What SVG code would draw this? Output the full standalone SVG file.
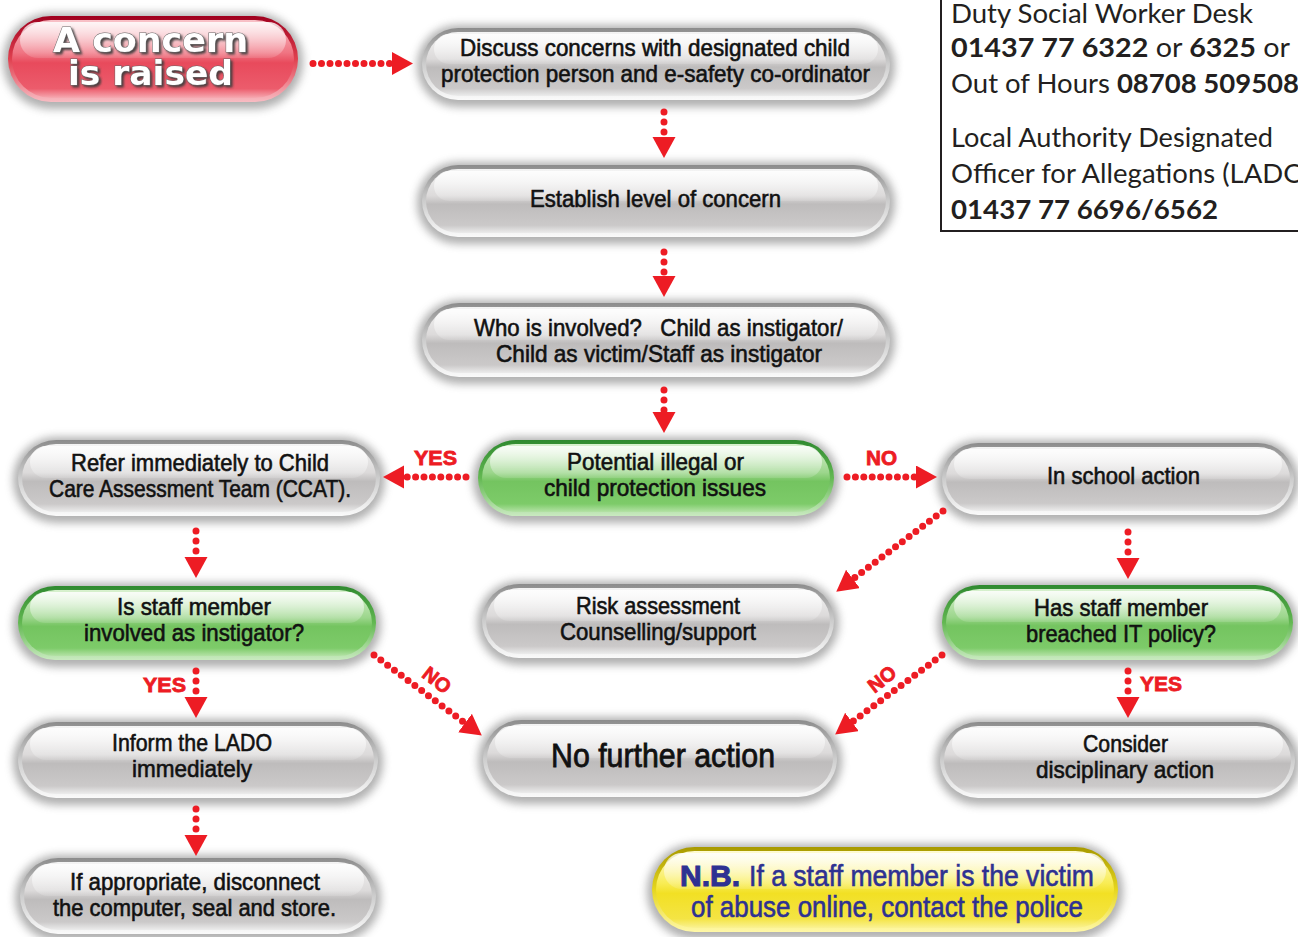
<svg xmlns="http://www.w3.org/2000/svg" width="1298" height="937" viewBox="0 0 1298 937">
<defs>
<style>
.sh{fill:#6f6f6f;opacity:.55;filter:url(#blur)}
.rimG{fill:url(#rimGray)}.bodyG{fill:url(#bodyGray)}
.rimN{fill:url(#rimGreen)}.bodyN{fill:url(#bodyGreen)}
.rimR{fill:url(#rimRed)}.bodyR{fill:url(#bodyRed)}
.rimY{fill:url(#rimYellow)}.bodyY{fill:url(#bodyYellow)}
.gl{fill:url(#gloss)}
.t{font-family:"Liberation Sans Narrow","Liberation Sans",Arial,sans-serif;font-size:24px;fill:#111;text-anchor:middle;stroke:#111;stroke-width:.6}
.big{font-size:33px;stroke-width:.8}
.nb{font-family:"Liberation Sans Narrow","Liberation Sans",Arial,sans-serif;font-size:29px;fill:#2e3192;stroke:#2e3192;stroke-width:.6}
.nbb{font-family:"Liberation Sans",Arial,sans-serif;font-weight:bold;font-size:29px;fill:#2e3192;stroke:#2e3192;stroke-width:1}
.ct{font-family:"DejaVu Sans","Liberation Sans",sans-serif;font-weight:bold;font-size:34px;text-anchor:middle;fill:#fff;stroke:#6a6a6a;stroke-width:1;paint-order:stroke;filter:url(#tshadow)}
.lbl{font-family:"Liberation Sans",Arial,sans-serif;font-weight:bold;font-size:20px;fill:#ed1c24;stroke:#ed1c24;stroke-width:.8}
.dots{fill:none;stroke:#ed1c24;stroke-width:7;stroke-linecap:round;stroke-dasharray:0 10;marker-end:url(#ah)}
.info{font-family:Lato,"Open Sans","Liberation Sans",sans-serif;font-size:27.5px;fill:#231f20}
.b{font-weight:bold}
</style>
<filter id="blur" x="-10%" y="-40%" width="120%" height="180%"><feGaussianBlur stdDeviation="4"/></filter>
<filter id="tshadow" x="-10%" y="-30%" width="130%" height="160%"><feDropShadow dx="2" dy="2" stdDeviation="0.8" flood-color="#3a3a3a" flood-opacity=".9"/></filter>
<marker id="ah" markerUnits="userSpaceOnUse" markerWidth="22" markerHeight="24" refX="0" refY="11.5" orient="auto"><path d="M0,0 L21,11.5 L0,23 Z" fill="#ed1c24"/></marker>
<linearGradient id="rimGray" x1="0" y1="0" x2="0" y2="1"><stop offset="0" stop-color="#8c8c8c"/><stop offset=".5" stop-color="#cdcdcd"/><stop offset="1" stop-color="#fafafa"/></linearGradient>
<linearGradient id="bodyGray" x1="0" y1="0" x2="0" y2="1"><stop offset="0" stop-color="#f4f4f4"/><stop offset=".42" stop-color="#dcdada"/><stop offset=".55" stop-color="#bebcbc"/><stop offset=".88" stop-color="#cbc9c9"/><stop offset="1" stop-color="#ececec"/></linearGradient>
<linearGradient id="rimGreen" x1="0" y1="0" x2="0" y2="1"><stop offset="0" stop-color="#2f8a2f"/><stop offset=".5" stop-color="#63b852"/><stop offset="1" stop-color="#c9eac0"/></linearGradient>
<linearGradient id="bodyGreen" x1="0" y1="0" x2="0" y2="1"><stop offset="0" stop-color="#d8f1cf"/><stop offset=".42" stop-color="#9cd68c"/><stop offset=".55" stop-color="#74c460"/><stop offset=".88" stop-color="#7dcb69"/><stop offset="1" stop-color="#b4e2a6"/></linearGradient>
<linearGradient id="rimRed" x1="0" y1="0" x2="0" y2="1"><stop offset="0" stop-color="#a0001e"/><stop offset=".5" stop-color="#e0404f"/><stop offset="1" stop-color="#f8bcc3"/></linearGradient>
<linearGradient id="bodyRed" x1="0" y1="0" x2="0" y2="1"><stop offset="0" stop-color="#f8c2c8"/><stop offset=".42" stop-color="#f07482"/><stop offset=".55" stop-color="#e84a5c"/><stop offset=".88" stop-color="#ec5c6c"/><stop offset="1" stop-color="#f6aab2"/></linearGradient>
<linearGradient id="rimYellow" x1="0" y1="0" x2="0" y2="1"><stop offset="0" stop-color="#a89a00"/><stop offset=".5" stop-color="#e6d61e"/><stop offset="1" stop-color="#fff8a8"/></linearGradient>
<linearGradient id="bodyYellow" x1="0" y1="0" x2="0" y2="1"><stop offset="0" stop-color="#fffbd4"/><stop offset=".42" stop-color="#f8ec54"/><stop offset=".55" stop-color="#f2e024"/><stop offset=".88" stop-color="#f4e444"/><stop offset="1" stop-color="#faf294"/></linearGradient>
<linearGradient id="gloss" x1="0" y1="0" x2="0" y2="1"><stop offset="0" stop-color="#fff" stop-opacity=".85"/><stop offset="1" stop-color="#fff" stop-opacity=".12"/></linearGradient>
</defs>
<rect width="1298" height="937" fill="#fff"/>

<g id="info-box">
<path d="M941,-2 V231 H1300" fill="none" stroke="#231f20" stroke-width="2"/>
<text class="info" x="951" y="23" textLength="302" lengthAdjust="spacingAndGlyphs">Duty Social Worker Desk</text>
<text class="info" x="951" y="57" textLength="339" lengthAdjust="spacingAndGlyphs"><tspan class="b">01437 77 6322</tspan> or <tspan class="b">6325</tspan> or</text>
<text class="info" x="951" y="93">Out of Hours <tspan class="b">08708 509508</tspan></text>
<text class="info" x="951" y="147" textLength="322" lengthAdjust="spacingAndGlyphs">Local Authority Designated</text>
<text class="info" x="951" y="183">Officer for Allegations (LADO)</text>
<text class="info b" x="951" y="219" textLength="267" lengthAdjust="spacingAndGlyphs">01437 77 6696/6562</text>
</g>

<g id="concern">
<rect class="sh" x="3" y="13" width="300" height="96" rx="48"/>
<rect class="rimR" x="8" y="16" width="290" height="86" rx="43"/>
<rect class="bodyR" x="12" y="20" width="282" height="78" rx="39"/>
<rect class="gl" x="20" y="22" width="266" height="36" rx="18"/>
<text class="ct" x="150.5" y="52" textLength="195" lengthAdjust="spacingAndGlyphs">A concern</text>
<text class="ct" x="150.5" y="85" textLength="165" lengthAdjust="spacingAndGlyphs">is raised</text>
</g>

<g id="discuss">
<rect class="sh" x="417" y="25" width="478" height="82" rx="41"/>
<rect class="rimG" x="422" y="28" width="468" height="72" rx="36"/>
<rect class="bodyG" x="426" y="32" width="460" height="64" rx="32"/>
<rect class="gl" x="434" y="34" width="444" height="30" rx="15"/>
<text class="t" x="655" y="56" textLength="390" lengthAdjust="spacingAndGlyphs">Discuss concerns with designated child</text>
<text class="t" x="655.5" y="82" textLength="429" lengthAdjust="spacingAndGlyphs">protection person and e-safety co-ordinator</text>
</g>

<g id="establish">
<rect class="sh" x="417" y="162" width="478" height="82" rx="41"/>
<rect class="rimG" x="422" y="165" width="468" height="72" rx="36"/>
<rect class="bodyG" x="426" y="169" width="460" height="64" rx="32"/>
<rect class="gl" x="434" y="171" width="444" height="30" rx="15"/>
<text class="t" x="655.5" y="207" textLength="251" lengthAdjust="spacingAndGlyphs">Establish level of concern</text>
</g>

<g id="who">
<rect class="sh" x="417" y="300" width="478" height="84" rx="42"/>
<rect class="rimG" x="422" y="303" width="468" height="74" rx="37"/>
<rect class="bodyG" x="426" y="307" width="460" height="66" rx="33"/>
<rect class="gl" x="434" y="309" width="444" height="31" rx="15.5"/>
<text class="t" x="658.5" y="336" textLength="369" lengthAdjust="spacingAndGlyphs" xml:space="preserve">Who is involved?   Child as instigator/</text>
<text class="t" x="659" y="362" textLength="326" lengthAdjust="spacingAndGlyphs">Child as victim/Staff as instigator</text>
</g>

<g id="potential">
<rect class="sh" x="473" y="437" width="366" height="86" rx="43"/>
<rect class="rimN" x="478" y="440" width="356" height="76" rx="38"/>
<rect class="bodyN" x="482" y="444" width="348" height="68" rx="34"/>
<rect class="gl" x="490" y="446" width="332" height="32" rx="16"/>
<text class="t" x="655.5" y="470" textLength="177" lengthAdjust="spacingAndGlyphs">Potential illegal or</text>
<text class="t" x="655" y="496" textLength="222" lengthAdjust="spacingAndGlyphs">child protection issues</text>
</g>

<g id="refer">
<rect class="sh" x="13" y="437" width="372" height="86" rx="43"/>
<rect class="rimG" x="18" y="440" width="362" height="76" rx="38"/>
<rect class="bodyG" x="22" y="444" width="354" height="68" rx="34"/>
<rect class="gl" x="30" y="446" width="338" height="32" rx="16"/>
<text class="t" x="200" y="471" textLength="258" lengthAdjust="spacingAndGlyphs">Refer immediately to Child</text>
<text class="t" x="200" y="497" textLength="302" lengthAdjust="spacingAndGlyphs">Care Assessment Team (CCAT).</text>
</g>

<g id="in-school">
<rect class="sh" x="937" y="440" width="362" height="82" rx="41"/>
<rect class="rimG" x="942" y="443" width="352" height="72" rx="36"/>
<rect class="bodyG" x="946" y="447" width="344" height="64" rx="32"/>
<rect class="gl" x="954" y="449" width="328" height="30" rx="15"/>
<text class="t" x="1123.5" y="484" textLength="153" lengthAdjust="spacingAndGlyphs">In school action</text>
</g>

<g id="is-staff">
<rect class="sh" x="13" y="583" width="368" height="84" rx="42"/>
<rect class="rimN" x="18" y="586" width="358" height="74" rx="37"/>
<rect class="bodyN" x="22" y="590" width="350" height="66" rx="33"/>
<rect class="gl" x="30" y="592" width="334" height="31" rx="15.5"/>
<text class="t" x="194" y="615" textLength="154" lengthAdjust="spacingAndGlyphs">Is staff member</text>
<text class="t" x="194" y="641" textLength="220" lengthAdjust="spacingAndGlyphs">involved as instigator?</text>
</g>

<g id="risk">
<rect class="sh" x="477" y="581" width="362" height="84" rx="42"/>
<rect class="rimG" x="482" y="584" width="352" height="74" rx="37"/>
<rect class="bodyG" x="486" y="588" width="344" height="66" rx="33"/>
<rect class="gl" x="494" y="590" width="328" height="31" rx="15.5"/>
<text class="t" x="658" y="614" textLength="164" lengthAdjust="spacingAndGlyphs">Risk assessment</text>
<text class="t" x="658" y="640" textLength="196" lengthAdjust="spacingAndGlyphs">Counselling/support</text>
</g>

<g id="has-staff">
<rect class="sh" x="937" y="582" width="361" height="85" rx="42.5"/>
<rect class="rimN" x="942" y="585" width="351" height="75" rx="37.5"/>
<rect class="bodyN" x="946" y="589" width="343" height="67" rx="33.5"/>
<rect class="gl" x="954" y="591" width="327" height="31" rx="15.5"/>
<text class="t" x="1121" y="616" textLength="174" lengthAdjust="spacingAndGlyphs">Has staff member</text>
<text class="t" x="1121" y="642" textLength="190" lengthAdjust="spacingAndGlyphs">breached IT policy?</text>
</g>

<g id="inform">
<rect class="sh" x="13" y="719" width="370" height="86" rx="43"/>
<rect class="rimG" x="18" y="722" width="360" height="76" rx="38"/>
<rect class="bodyG" x="22" y="726" width="352" height="68" rx="34"/>
<rect class="gl" x="30" y="728" width="336" height="32" rx="16"/>
<text class="t" x="192" y="751" textLength="160" lengthAdjust="spacingAndGlyphs">Inform the LADO</text>
<text class="t" x="192" y="777" textLength="120" lengthAdjust="spacingAndGlyphs">immediately</text>
</g>

<g id="no-further">
<rect class="sh" x="478" y="717" width="364" height="87" rx="43.5"/>
<rect class="rimG" x="483" y="720" width="354" height="77" rx="38.5"/>
<rect class="bodyG" x="487" y="724" width="346" height="69" rx="34.5"/>
<rect class="gl" x="495" y="726" width="330" height="32" rx="16"/>
<text class="t big" x="663" y="767" textLength="224" lengthAdjust="spacingAndGlyphs">No further action</text>
</g>

<g id="consider">
<rect class="sh" x="935" y="719" width="365" height="86" rx="43"/>
<rect class="rimG" x="940" y="722" width="355" height="76" rx="38"/>
<rect class="bodyG" x="944" y="726" width="347" height="68" rx="34"/>
<rect class="gl" x="952" y="728" width="331" height="32" rx="16"/>
<text class="t" x="1125.5" y="752" textLength="85" lengthAdjust="spacingAndGlyphs">Consider</text>
<text class="t" x="1125" y="778" textLength="178" lengthAdjust="spacingAndGlyphs">disciplinary action</text>
</g>

<g id="disconnect">
<rect class="sh" x="15" y="855" width="366" height="86" rx="43"/>
<rect class="rimG" x="20" y="858" width="356" height="76" rx="38"/>
<rect class="bodyG" x="24" y="862" width="348" height="68" rx="34"/>
<rect class="gl" x="32" y="864" width="332" height="32" rx="16"/>
<text class="t" x="195" y="890" textLength="250" lengthAdjust="spacingAndGlyphs">If appropriate, disconnect</text>
<text class="t" x="194.5" y="916" textLength="283" lengthAdjust="spacingAndGlyphs">the computer, seal and store.</text>
</g>

<g id="nb">
<rect class="sh" x="647" y="844" width="476" height="95" rx="47.5"/>
<rect class="rimY" x="652" y="847" width="466" height="85" rx="42.5"/>
<rect class="bodyY" x="656" y="851" width="458" height="77" rx="38.5"/>
<rect class="gl" x="664" y="853" width="442" height="36" rx="18"/>
<text class="nbb" x="680" y="886" textLength="60" lengthAdjust="spacingAndGlyphs">N.B.</text>
<text class="nb" x="749" y="886" textLength="345" lengthAdjust="spacingAndGlyphs">If a staff member is the victim</text>
<text class="nb" x="887" y="917" text-anchor="middle" textLength="392" lengthAdjust="spacingAndGlyphs">of abuse online, contact the police</text>
</g>

<g id="connectors">
<path class="dots" style="stroke-dasharray:0 8.5" d="M313,63.5 L392,63.5"/>
<path class="dots" d="M664,112 L664,137"/>
<path class="dots" d="M664,252 L664,276"/>
<path class="dots" d="M664,390 L664,412"/>
<path class="dots" style="stroke-dasharray:0 8.4" d="M466,477 L404,477"/>
<path class="dots" style="stroke-dasharray:0 8.4" d="M847,477 L916,477"/>
<path class="dots" style="stroke-dasharray:0 8.5" d="M943,511 L853,579"/>
<path class="dots" d="M1128,532 L1128,558"/>
<path class="dots" d="M196,531 L196,557"/>
<path class="dots" d="M196,671 L196,697"/>
<path class="dots" style="stroke-dasharray:0 8.5" d="M374,655 L465,723"/>
<path class="dots" style="stroke-dasharray:0 8.5" d="M942,655 L852,722"/>
<path class="dots" d="M1128,671 L1128,697"/>
<path class="dots" d="M196,809 L196,835"/>
<text class="lbl" x="414" y="465" textLength="43" lengthAdjust="spacingAndGlyphs">YES</text>
<text class="lbl" x="866" y="465" textLength="31" lengthAdjust="spacingAndGlyphs">NO</text>
<text class="lbl" x="143" y="692" textLength="43" lengthAdjust="spacingAndGlyphs">YES</text>
<text class="lbl" x="1140" y="691" textLength="42" lengthAdjust="spacingAndGlyphs">YES</text>
<text class="lbl" transform="translate(437,680) rotate(38)" x="0" y="7" text-anchor="middle">NO</text>
<text class="lbl" transform="translate(882,679) rotate(-38)" x="0" y="7" text-anchor="middle">NO</text>
</g>
</svg>
